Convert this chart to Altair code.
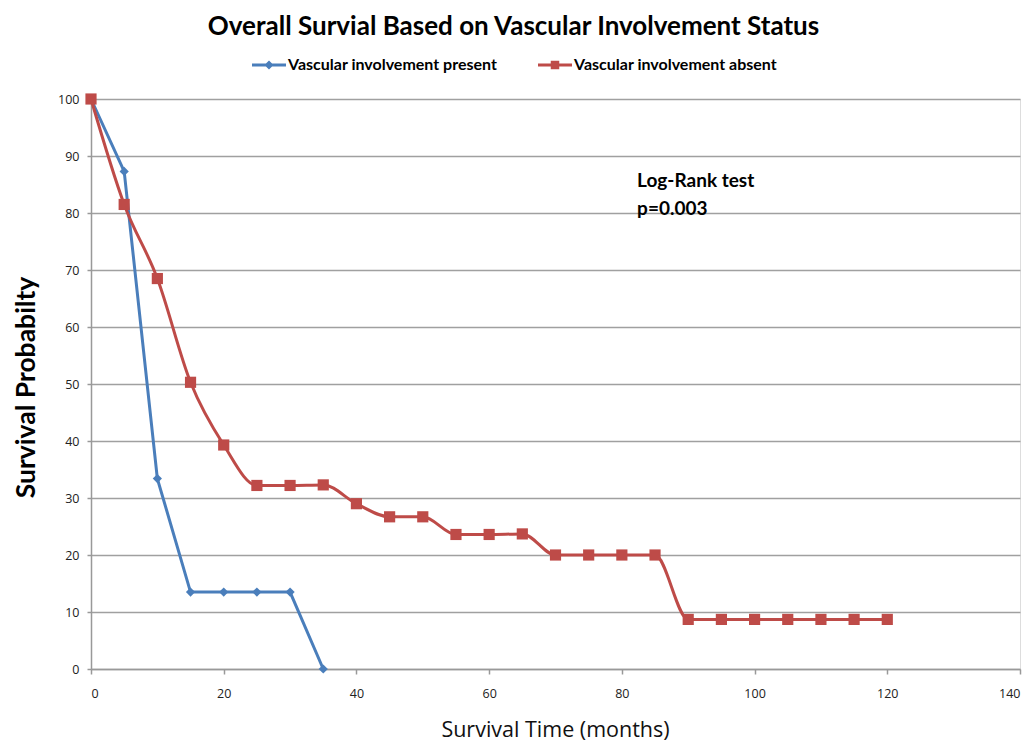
import altair as alt
import pandas as pd

# ---- data ----
months_present = [0, 5, 10, 15, 20, 25, 30, 35]
surv_present = [100, 87.3, 33.4, 13.5, 13.5, 13.5, 13.5, 0]

months_absent = [0, 5, 10, 15, 20, 25, 30, 35, 40, 45, 50, 55, 60, 65, 70, 75, 80, 85,
                 90, 95, 100, 105, 110, 115, 120]
surv_absent = [100, 81.5, 68.5, 50.3, 39.3, 32.2, 32.2, 32.3, 29.0, 26.7, 26.7, 23.6, 23.6, 23.7,
               20.0, 20.0, 20.0, 20.0, 8.7, 8.7, 8.7, 8.7, 8.7, 8.7, 8.7]

series_names = ["Vascular involvement present", "Vascular involvement absent"]
series_colors = ["#4a7ebb", "#be4b48"]
x_ticks = [0, 20, 40, 60, 80, 100, 120, 140]
y_ticks = [0, 10, 20, 30, 40, 50, 60, 70, 80, 90, 100]
annotation_text = ["Log-Rank test", "p=0.003"]

df_p = pd.DataFrame({"month": months_present, "surv": surv_present, "series": series_names[0]})
df_a = pd.DataFrame({"month": months_absent, "surv": surv_absent, "series": series_names[1]})
df_all = pd.concat([df_p, df_a], ignore_index=True)
df_note = pd.DataFrame({"month": [82.3], "surv": [84.6], "label": ["\n".join(annotation_text)]})

x_enc = alt.X("month:Q", scale=alt.Scale(domain=[0, 140], nice=False),
              axis=alt.Axis(values=x_ticks, grid=False, title="Survival Time (months)",
                            labelFont="Open Sans", labelFontSize=12.5, labelColor="#222",
                            labelPadding=13, tickSize=5, tickColor="#999", tickWidth=1.5,
                            domainColor="#999", domainWidth=1.5,
                            titleFont="Open Sans", titleFontSize=21.5, titleFontWeight="normal",
                            titleColor="#111", titleX=464, titleY=61, titleBaseline="middle"))
y_enc = alt.Y("surv:Q", scale=alt.Scale(domain=[0, 100], nice=False),
              axis=alt.Axis(values=y_ticks, grid=True, gridColor="#a0a0a0", gridWidth=1.5,
                            title="Survival Probabilty",
                            labelFont="Open Sans", labelFontSize=12.5, labelColor="#222",
                            labelPadding=8, tickSize=4, tickColor="#999", tickWidth=1.5,
                            domainColor="#999", domainWidth=1.5,
                            titleFont="Lato", titleFontSize=26.5, titleFontWeight="bold",
                            titleColor="#000", titleAngle=-90, titleX=-65, titleY=288,
                            titleAlign="center", titleBaseline="middle"))

layers = []
for name, col, shp, sz, interp, d in [
        (series_names[0], series_colors[0], "diamond", 85, "linear", df_p),
        (series_names[1], series_colors[1], "square", 125, "monotone", df_a)]:
    base = alt.Chart(d)
    layers.append(base.mark_line(color=col, strokeWidth=3, interpolate=interp)
                  .encode(x=x_enc, y=y_enc))
    layers.append(base.mark_point(color=col, filled=True, opacity=1, shape=shp, size=sz)
                  .encode(x="month:Q", y="surv:Q"))

# legend layer (zero-size points, legend symbols drawn as line + marker)
path_present = "M-1,-0.09L1,-0.09L1,0.09L-1,0.09Z M0,-0.27L0.27,0L0,0.27L-0.27,0Z"
path_absent = "M-1,-0.09L1,-0.09L1,0.09L-1,0.09Z M-0.25,-0.25L0.25,-0.25L0.25,0.25L-0.25,0.25Z"
legend_layer = alt.Chart(df_all).mark_point(filled=True, size=0, opacity=1).encode(
    x="month:Q", y="surv:Q",
    color=alt.Color("series:N", scale=alt.Scale(domain=series_names, range=series_colors),
                    legend=alt.Legend(title=None, orient="none", direction="horizontal",
                                      legendX=161, legendY=-51, symbolSize=1156,
                                      symbolOpacity=1, symbolStrokeWidth=0, labelLimit=0,
                                      labelFont="Lato", labelFontSize=16, labelFontWeight="bold",
                                      labelColor="#000", columnPadding=40, labelOffset=2)),
    shape=alt.Shape("series:N", scale=alt.Scale(domain=series_names,
                                                 range=[path_present, path_absent])),
)
layers.append(legend_layer)

note = alt.Chart(df_note).mark_text(align="left", baseline="alphabetic", font="Lato",
                                    fontSize=19, fontWeight="bold", color="#000",
                                    lineBreak="\n", lineHeight=28).encode(
    x="month:Q", y="surv:Q", text="label:N")
layers.append(note)

chart = alt.layer(*layers).properties(
    width=929, height=570,
    title=alt.Title("Overall Survial Based on Vascular Involvement Status", font="Lato",
                    fontSize=26, fontWeight="bold", color="#000", anchor="middle",
                    dx=-42, offset=8),
    autosize=alt.AutoSizeParams(type="none"),
    padding={"left": 83, "top": 91, "right": 5, "bottom": 73},
).configure_view(stroke=None).configure(background="white")

chart.save("out.html", embed_options={"renderer": "svg", "actions": False})
